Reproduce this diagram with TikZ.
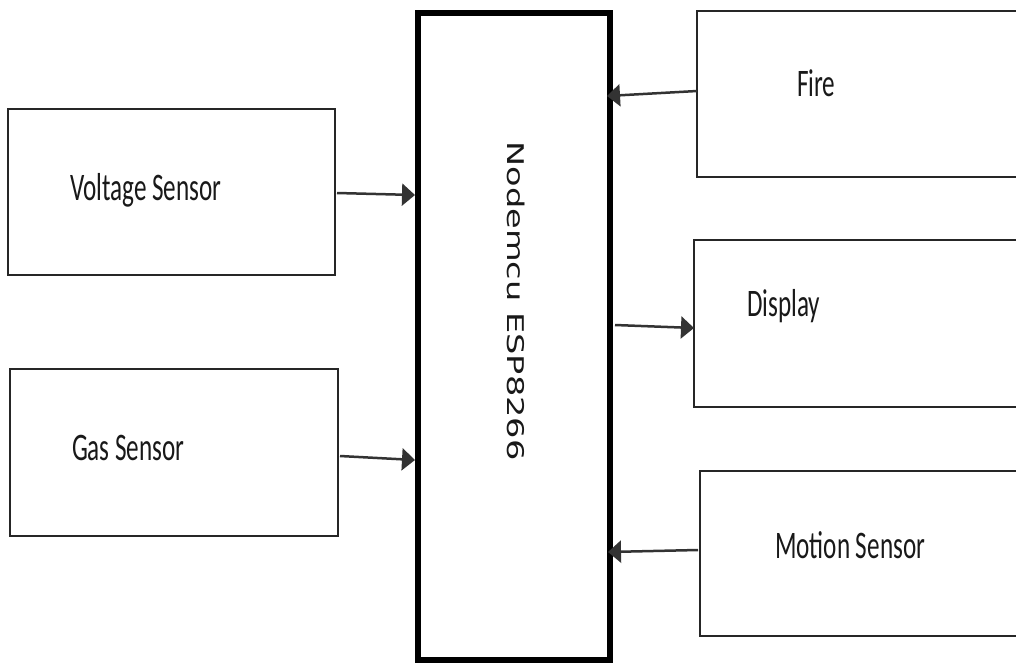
\documentclass[tikz,border=0pt]{standalone}
\usepackage{fontspec}
\setmainfont{Carlito}
\newfontfamily\mcufont{DejaVu Sans}
\usetikzlibrary{arrows.meta,calc}
\tikzset{
  box/.style={draw=black!85, line width=1.8pt, rectangle, inner sep=0pt, outer sep=0pt},
  mainbox/.style={draw=black, line width=6pt, rectangle, inner sep=0pt, outer sep=0pt},
  lbl/.style={inner sep=0pt, outer sep=0pt, anchor=base west, text=black!90,
    font=\fontsize{39}{41}\selectfont},
  arr/.style={draw=black!80, line width=2.5pt, -{Triangle[length=13pt,width=22pt]}}
}
\newcommand{\sq}[1]{\scalebox{0.645}[1]{#1}}
\begin{document}
\begin{tikzpicture}[x=1pt,y=-1pt]
\useasboundingbox (0,0) rectangle (1016,664);
\clip (0,0) rectangle (1016,664);
\fill[white] (0,0) rectangle (1016,664);
% boxes
\node[box, minimum width=327pt, minimum height=166pt] (volt) at (171.5,192) {};
\node[box, minimum width=328pt, minimum height=167pt] (gas) at (174,452.5) {};
\node[box, minimum width=333pt, minimum height=166pt] (fire) at (863.5,94) {};
\node[box, minimum width=336pt, minimum height=167pt] (disp) at (862,323.5) {};
\node[box, minimum width=330pt, minimum height=165pt] (motion) at (865,553.5) {};
\node[mainbox, minimum width=192pt, minimum height=647pt] (mcu) at (514,336.5) {};
% labels
\node[lbl] (tvolt) at (70,200) {\sq{Voltage Sensor}};
\node[lbl] (tgas) at (72,460) {\sq{Gas Sensor}};
\node[lbl] (tfire) at (797,96) {\sq{Fire}};
\node[lbl] (tdisp) at (747,316) {\sq{Display}};
\node[lbl] (tmotion) at (775,558) {\sq{Motion Sensor}};
\node[rotate=-90, inner sep=0pt, text=black!90] (tmcu) at (516.5,301)
  {\mcufont\fontsize{23}{25}\selectfont\scalebox{1.46}[1]{Nodemcu ESP8266}};
% connectors
\draw[arr] ($(volt.east)+(2,1)$) -- ($(mcu.west)+(-3,-141.5)$);
\draw[arr] ($(gas.east)+(2,3.5)$) -- ($(mcu.west)+(-3,123.5)$);
\draw[arr] ($(fire.west)+(0,-3)$) -- ($(mcu.east)+(-3,-240.5)$);
\draw[arr] ($(mcu.east)+(5,-11.5)$) -- ($(disp.west)+(0,4.5)$);
\draw[arr] ($(motion.west)+(-2,-3.5)$) -- ($(mcu.east)+(-2,215.5)$);
\end{tikzpicture}
\end{document}
